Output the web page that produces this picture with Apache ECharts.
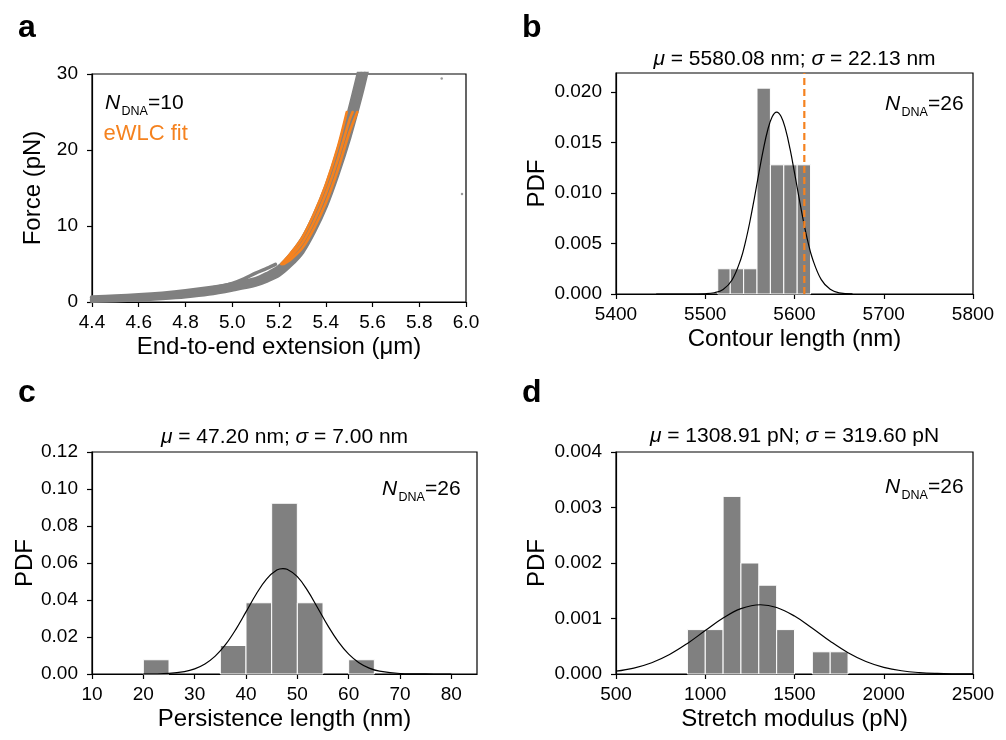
<!DOCTYPE html>
<html><head><meta charset="utf-8">
<script src="https://cdn.jsdelivr.net/npm/echarts@6/dist/echarts.min.js"></script>
<style>html,body{margin:0;padding:0;background:#fff}#c{width:1006px;height:740px}</style>
</head><body><div id="c"></div>
<script>
// ---------- Panel a: force-extension traces (x in µm, F in pN) ----------
const aTraceLeft = [[4.4,0.6],[4.5,0.72],[4.6,0.88],[4.7,1.1],[4.8,1.4],[4.9,1.8],[5.0,2.3],[5.1,3.0],[5.15,3.7],[5.2,4.6],[5.25,6.2],[5.3,8.3],[5.35,11.3],[5.4,15.0],[5.45,19.6],[5.5,25.0],[5.55,31.2]];
const aTraceMid = [[4.4,0.35],[4.5,0.45],[4.6,0.6],[4.7,0.8],[4.8,1.05],[4.9,1.45],[5.0,2.0],[5.1,2.7],[5.15,3.3],[5.2,4.1],[5.25,5.6],[5.3,7.4],[5.35,10.3],[5.4,13.8],[5.45,18.2],[5.5,23.3],[5.55,29.2],[5.57,31.5]];
const aTraceRight = [[4.4,0.15],[4.5,0.22],[4.6,0.35],[4.7,0.52],[4.8,0.75],[4.9,1.1],[5.0,1.65],[5.1,2.3],[5.15,2.85],[5.2,3.6],[5.25,4.9],[5.3,6.6],[5.35,9.3],[5.4,12.6],[5.45,16.8],[5.5,21.6],[5.55,27.2],[5.58,31]];
const aTraceBranch = [[4.9,1.8],[4.95,2.08],[5.0,2.45],[5.05,3.05],[5.1,3.8],[5.15,4.45],[5.185,4.95]];
const aStrayPoints = [[5.896,29.4],[5.983,14.2]];
const aFitL = [[5.21,5.0],[5.25,6.4],[5.3,8.5],[5.35,11.6],[5.4,15.4],[5.45,20.2],[5.49,25]];
const aFitM = [[5.215,5.0],[5.25,6.0],[5.3,7.8],[5.35,10.6],[5.4,14.2],[5.45,18.6],[5.5,23.8],[5.515,25]];
const aFitR = [[5.22,5.0],[5.25,5.6],[5.3,7.1],[5.35,9.7],[5.4,13.0],[5.45,17.2],[5.5,22.2],[5.535,25]];

// ---------- Panel b: contour length ----------
const bBinLeft  = [5514,5528,5543,5558,5573,5588,5603];
const bBinRight = [5528,5543,5558,5573,5588,5603,5618];
const bHeights  = [0.0025,0.0025,0.0025,0.0204,0.0128,0.0128,0.0128];
const bFitX = [5445,5480,5500,5510,5520,5530,5540,5545,5550,5555,5560,5565,5570,5575,5580,5585,5590,5595,5600,5605,5610,5615,5620,5630,5640,5650,5665];
const bFitY = [0,0.000001,0.000026,0.00012,0.00045,0.00139,0.0035,0.00514,0.00716,0.00948,0.01194,0.01429,0.01625,0.01756,0.01803,0.01759,0.01631,0.01437,0.01203,0.00957,0.00723,0.00519,0.00354,0.00142,0.00046,0.00012,0.00001];
const bRefLine = 5611;

// ---------- Panel c: persistence length ----------
const cBinLeft  = [20,35,40,45,50,60];
const cBinRight = [25,40,45,50,55,65];
const cHeights  = [0.0077,0.0154,0.0385,0.0923,0.0385,0.0077];
const cFitX = [20,25,28,30,32,34,36,38,40,42,44,46,47.2,48,50,52,54,56,58,60,62,64,66,70,75,80];
const cFitY = [0.00003,0.00037,0.00132,0.00279,0.0054,0.00963,0.01584,0.02402,0.03357,0.04325,0.05134,0.05616,0.05699,0.05662,0.05261,0.04505,0.03556,0.02586,0.01734,0.01071,0.0061,0.0032,0.00155,0.00028,0.00002,0];

// ---------- Panel d: stretch modulus ----------
const dBinLeft  = [900,1000,1100,1200,1300,1400,1600,1700];
const dBinRight = [1000,1100,1200,1300,1400,1500,1700,1800];
const dHeights  = [0.0008,0.0008,0.0032,0.002,0.0016,0.0008,0.0004,0.0004];
const dFitX = [500,600,700,800,900,1000,1100,1200,1309,1400,1500,1600,1700,1800,1900,2000,2100,2200,2300,2400,2500];
const dFitY = [0.0000507,0.0001066,0.0002032,0.0003513,0.0005504,0.0007823,0.001008,0.001178,0.001248,0.001199,0.001044,0.0008246,0.0005905,0.0003834,0.0002257,0.0001206,0.0000583,0.0000256,0.0000102,0.0000037,0.0000012];

// ---------- ticks / labels ----------
const aXTicks = [4.4,4.6,4.8,5.0,5.2,5.4,5.6,5.8,6.0];
const aYTicks = [0,10,20,30];
const bXTicks = [5400,5500,5600,5700,5800];
const bYTicks = [0,0.005,0.010,0.015,0.020];
const cXTicks = [10,20,30,40,50,60,70,80];
const cYTicks = [0,0.02,0.04,0.06,0.08,0.10,0.12];
const dXTicks = [500,1000,1500,2000,2500];
const dYTicks = [0,0.001,0.002,0.003,0.004];

const titles = {
  b: '{i|μ} = 5580.08 nm; {i|σ} = 22.13 nm',
  c: '{i|μ} = 47.20 nm; {i|σ} = 7.00 nm',
  d: '{i|μ} = 1308.91 pN; {i|σ} = 319.60 pN'
};

const FONT = '"Liberation Sans", Arial, sans-serif';
const GRAY = '#808080', ORANGE = '#f5821f';

const grids = [
  {left:92, top:74, width:374, height:228},
  {left:616, top:73, width:357, height:221},
  {left:92, top:452, width:385, height:222},
  {left:616, top:452, width:357, height:222}
];

function axisCommon(){
  return {
    axisLine:{show:true, onZero:false, lineStyle:{color:'#000', width:1.2}},
    splitLine:{show:false}
  };
}
function xAx(gi, min, max, ticks, name, fmt){
  return Object.assign(axisCommon(), {
    type:'value', gridIndex:gi, min, max, interval: ticks[1]-ticks[0],
    name, nameLocation:'middle', nameGap:33,
    nameTextStyle:{fontSize:24, color:'#000', fontFamily:FONT},
    axisLabel:{fontSize:19, color:'#000', fontFamily:FONT, margin:11, formatter:fmt, customValues:ticks},
    axisTick:{show:true, inside:false, length:5, customValues:ticks, lineStyle:{color:'#000', width:1.2}}
  });
}
function yAx(gi, min, max, ticks, name, fmt, gap){
  return Object.assign(axisCommon(), {
    type:'value', gridIndex:gi, min, max, interval: ticks[1]-ticks[0],
    name, nameLocation:'middle', nameGap:gap,
    nameTextStyle:{fontSize:24, color:'#000', fontFamily:FONT},
    axisLabel:{fontSize:19, color:'#000', fontFamily:FONT, margin:14, formatter:fmt, customValues:ticks},
    axisTick:{show:true, inside:false, length:5, customValues:ticks, lineStyle:{color:'#000', width:1.2}}
  });
}

function histItem(params, api){
  const p0 = api.coord([api.value(0), api.value(2)]);
  const p1 = api.coord([api.value(1), 0]);
  return {type:'rect', shape:{x:p0[0], y:p0[1], width:p1[0]-p0[0], height:p1[1]-p0[1]},
    style:{fill:GRAY, stroke:'#ffffff', lineWidth:1}};
}
function hist(gi, L, R, H){
  return {type:'custom', xAxisIndex:gi, yAxisIndex:gi, renderItem:histItem, silent:true,
    encode:{x:[0,1], y:2}, data: L.map((l,i)=>[l, R[i], H[i]]), z:2};
}
function fitLine(gi, X, Y){
  return {type:'line', xAxisIndex:gi, yAxisIndex:gi, data:X.map((x,i)=>[x, Y[i]]), smooth:0.4,
    symbol:'none', lineStyle:{color:'#000', width:1.2}, silent:true, z:3};
}
function trace(data, color, w, z){
  return {type:'line', xAxisIndex:0, yAxisIndex:0, data, smooth:0.3, symbol:'none',
    lineStyle:{color, width:w, cap:'round', join:'round'}, silent:true, z};
}

const series = [
  trace(aTraceBranch, GRAY, 3.5, 2),
  trace(aTraceLeft, GRAY, 4.5, 2),
  trace(aTraceMid, GRAY, 4.5, 2),
  trace(aTraceRight, GRAY, 4.5, 2),
  {type:'scatter', xAxisIndex:0, yAxisIndex:0, data:aStrayPoints, symbolSize:2.5, itemStyle:{color:GRAY}, silent:true},
  trace(aFitL, ORANGE, 2.6, 4),
  trace(aFitM, ORANGE, 2.6, 4),
  trace(aFitR, ORANGE, 2.6, 4),
  hist(1, bBinLeft, bBinRight, bHeights),
  fitLine(1, bFitX, bFitY),
  {type:'line', xAxisIndex:1, yAxisIndex:1, data:[[bRefLine,0],[bRefLine,0.0219]], symbol:'none',
    lineStyle:{color:ORANGE, width:2.2, type:[7,4]}, silent:true, z:4},
  hist(2, cBinLeft, cBinRight, cHeights),
  fitLine(2, cFitX, cFitY),
  hist(3, dBinLeft, dBinRight, dHeights),
  fitLine(3, dFitX, dFitY)
];

function txt(x, y, text, size, opts){
  return {type:'text', x, y, silent:true, z:100, style:Object.assign({text, fill:'#000',
    fontSize:size, fontFamily:FONT, align:'left', verticalAlign:'bottom', textAlign:'left', textVerticalAlign:'bottom'}, opts||{})};
}
function ndna(x, y, num){
  return [
    txt(x, y+4.4, 'N', 21, {fontStyle:'italic'}),
    txt(x+16.5, y+6+2.6, 'DNA', 12.5),
    txt(x+43, y+4.4, '=' + num, 21)
  ];
}
function titleText(cx, cy, t){
  return {type:'text', x:cx, y:cy, silent:true, z:100, style:{text:t, fill:'#000', fontSize:21, fontFamily:FONT,
    align:'center', verticalAlign:'middle', textAlign:'center', textVerticalAlign:'middle',
    rich:{i:{fontStyle:'italic', fontSize:21, fontFamily:FONT, fill:'#000'}}}};
}

const graphics = [
  txt(18, 44, 'a', 32, {fontWeight:'bold'}),
  txt(522, 44, 'b', 32, {fontWeight:'bold'}),
  txt(18, 409, 'c', 32, {fontWeight:'bold'}),
  txt(522, 409, 'd', 32, {fontWeight:'bold'}),
  ...ndna(105, 109.5, 10),
  txt(103.5, 144.5, 'eWLC fit', 22, {fill:ORANGE}),
  ...ndna(885, 110, 26),
  ...ndna(382, 495, 26),
  ...ndna(885, 493.5, 26),
  titleText(616+357/2, 59, titles.b),
  titleText(92+385/2, 437.5, titles.c),
  titleText(616+357/2, 436.5, titles.d)
];

const chart = echarts.init(document.getElementById('c'), null, {renderer:'canvas'});
chart.setOption({
  animation:false,
  backgroundColor:'#fff',
  grid: grids.map(g=>Object.assign({show:true, borderColor:'#000', borderWidth:1.2, backgroundColor:'transparent', containLabel:false}, g)),
  xAxis: [
    xAx(0, 4.4, 6.0, aXTicks, 'End-to-end extension (μm)', v=>v.toFixed(1)),
    xAx(1, 5400, 5800, bXTicks, 'Contour length (nm)', v=>String(Math.round(v))),
    xAx(2, 10, 85, cXTicks, 'Persistence length (nm)', v=>String(Math.round(v))),
    xAx(3, 500, 2500, dXTicks, 'Stretch modulus (pN)', v=>String(Math.round(v)))
  ],
  yAxis: [
    yAx(0, 0, 30, aYTicks, 'Force (pN)', v=>String(Math.round(v)), 47),
    yAx(1, 0, 0.0219, bYTicks, 'PDF', v=>v.toFixed(3), 67),
    yAx(2, 0, 0.12, cYTicks, 'PDF', v=>v.toFixed(2), 46),
    yAx(3, 0, 0.004, dYTicks, 'PDF', v=>v.toFixed(3), 67)
  ],
  series,
  graphic: graphics
});
</script></body></html>
